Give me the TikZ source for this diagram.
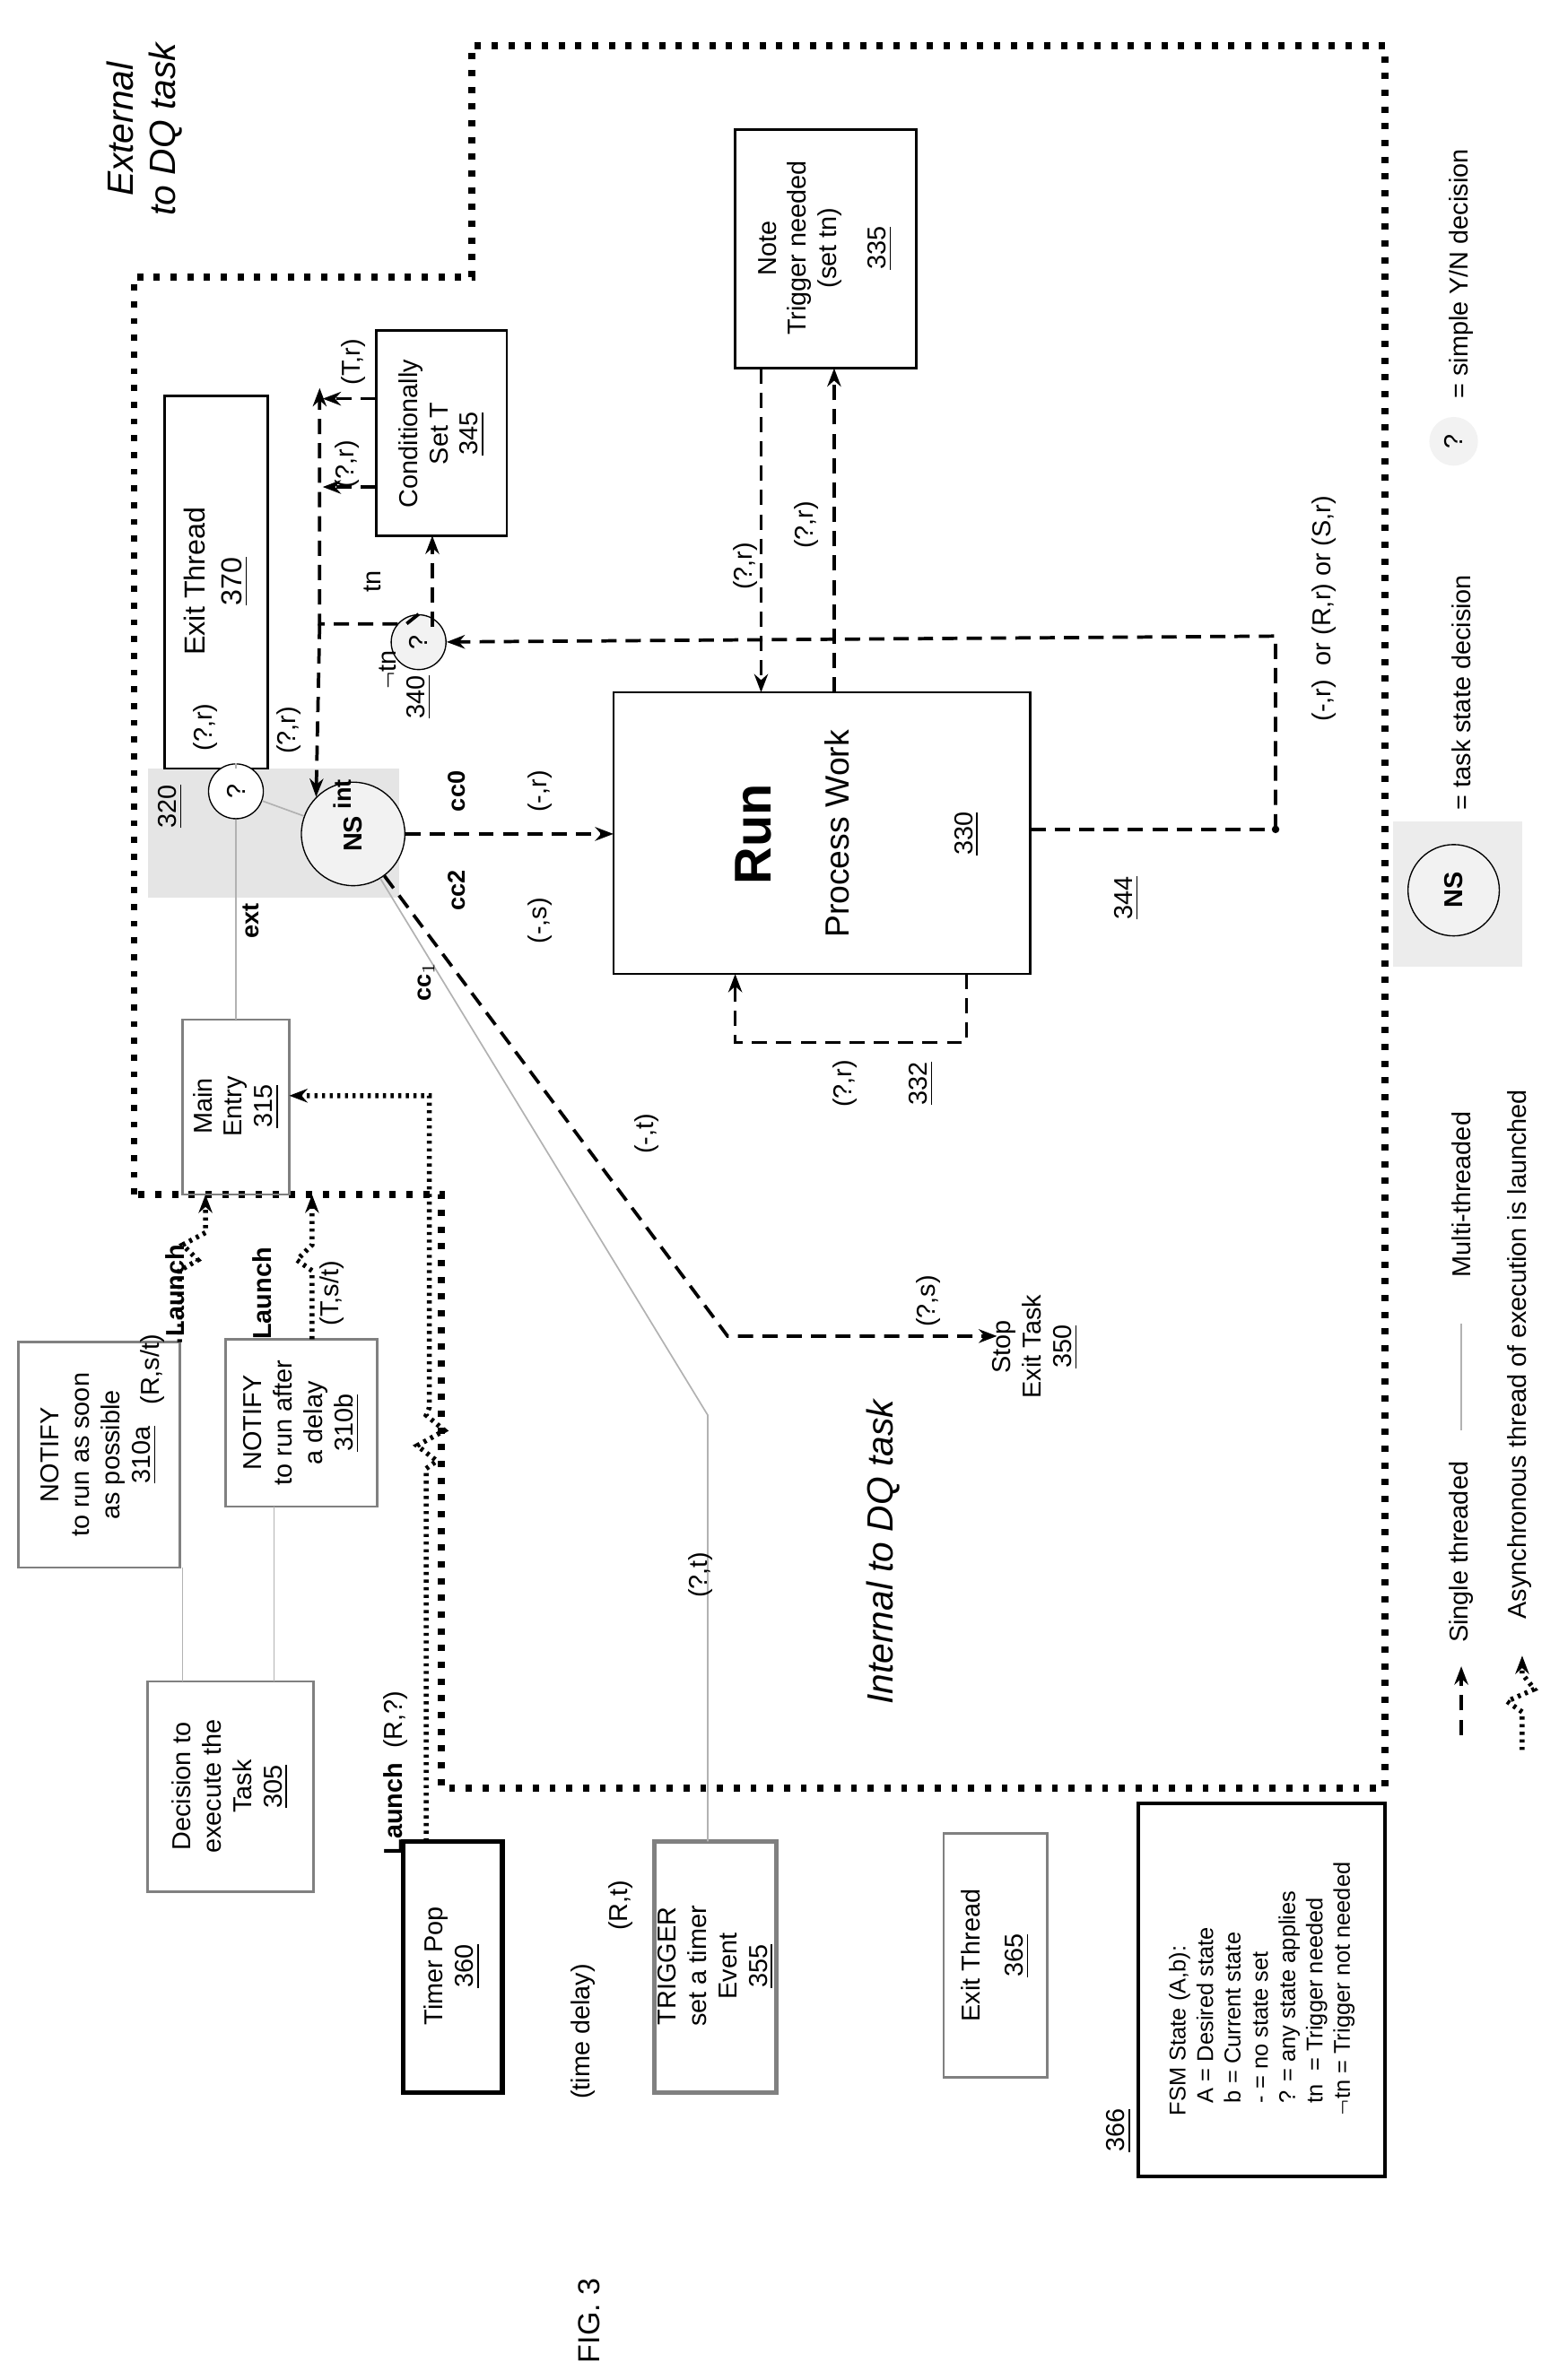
\documentclass[tikz,border=0pt]{standalone}
\usepackage{fontspec}
\setmainfont{Liberation Sans}
\usetikzlibrary{arrows.meta}
\begin{document}
\begin{tikzpicture}[x=0.5pt,y=-0.5pt,
 every node/.style={font=\fontsize{8.5}{10}\selectfont},
 rt/.style={rotate=90,align=center,inner sep=1pt},
 bnd/.style={line width=2.2pt,dash pattern=on 2pt off 3.5pt},
 dsh/.style={line width=1.1pt,dash pattern=on 5pt off 3pt,-{Stealth[length=6pt]}},
 dshn/.style={line width=1.1pt,dash pattern=on 5pt off 3pt},
 mt/.style={gray!60,line width=0.5pt},
 asy/.style={line width=1.6pt,dash pattern=on 1pt off 1.5pt,-{Stealth[length=6pt]}}]
\useasboundingbox (0,0) rectangle (1024,1564);
% boundary
\draw[bnd] (88,785) -- (88,182) -- (310,182) -- (310,30) -- (910,30) -- (910,1175) -- (290,1175) -- (290,785) -- cycle;
\node[rt,font=\fontsize{12}{14}\selectfont\itshape] at (95,85) {External\\to DQ task};
\node[rt,font=\fontsize{12}{14}\selectfont\itshape] at (580,1020) {Internal to DQ task};
% shaded 320
\fill[gray!20] (97,505) rectangle (262,590);
% boxes
\draw[line width=0.8pt] (108,260) rectangle (176,505); \node[rt,font=\fontsize{9.5}{12}\selectfont] at (142,382) {Exit Thread\\\underline{370}};
\draw[line width=0.8pt] (247,217) rectangle (333,352); \node[rt] (cst) at (290,285) {Conditionally\\Set T\\\underline{345}};
\draw[line width=0.8pt] (483,85) rectangle (602,242); \node[rt] (note) at (542,163) {Note\\Trigger needed\\(set tn)\\[6pt]\underline{335}};
\draw[line width=0.8pt] (403,455) rectangle (677,640);
\node[rt,font=\fontsize{17}{20}\selectfont\bfseries] at (495,548) {Run};
\node[rt,font=\fontsize{11}{13}\selectfont] at (550,548) {Process Work};
\node[rt] at (635,548) {\underline{330}};
\draw[gray,line width=0.8pt] (120,670) rectangle (190,785); \node[rt] at (155,727) {Main\\Entry\\\underline{315}};
\draw[gray,line width=0.8pt] (12,882) rectangle (118,1030); \node[rt] at (65,956) {NOTIFY\\to run as soon\\as possible\\\underline{310a}};
\draw[gray,line width=0.8pt] (148,880) rectangle (248,990); \node[rt] at (198,935) {NOTIFY\\to run after\\a delay\\\underline{310b}};
\draw[gray,line width=0.8pt] (97,1105) rectangle (206,1243); \node[rt] at (151,1174) {Decision to\\execute the\\Task\\\underline{305}};
\draw[line width=1.6pt] (265,1210) rectangle (330,1375); \node[rt] at (297,1292) {Timer Pop\\\underline{360}};
\draw[gray,line width=1.6pt] (430,1210) rectangle (510,1375); \node[rt] at (470,1292) {TRIGGER\\set a timer\\Event\\\underline{355}};
\draw[gray,line width=0.8pt] (620,1205) rectangle (688,1365); \node[rt] at (654,1285) {Exit Thread\\[4pt]\underline{365}};
\draw[line width=1.2pt] (748,1185) rectangle (910,1430);
\node[rotate=90,align=left,font=\fontsize{7.5}{9}\selectfont] at (829,1307) {FSM State (A,b):\\\ \ A = Desired state\\\ \ b = Current state\\\ \ - = no state set\\\ \ ? = any state applies\\\ \ tn \ = Trigger needed\\$\neg$tn = Trigger not needed};
\node[rt] at (735,1400) {\underline{366}};
\node[rt,font=\fontsize{10}{12}\selectfont] at (387,1525) {FIG. 3};
\node[rt] at (680,885) {Stop\\Exit Task\\\underline{350}};
% circles
\node[draw,circle,fill=white,inner sep=1pt,minimum size=18pt] (q320) at (155,520) {\rotatebox{90}{?}};
\node[draw,circle,fill=gray!10,inner sep=1pt,minimum size=34pt] (ns) at (232,548) {\rotatebox{90}{\bfseries NS}};
\node[draw,circle,fill=gray!10,inner sep=1pt,minimum size=18pt] (q340) at (275,422) {\rotatebox{90}{?}};
\node[rt] at (112,530) {\underline{320}};
\node[rt] at (275,458) {\underline{340}};
% multi-threaded lines
\draw[mt] (q320) -- (ns);
\draw[mt] (q320) -- (155,670);
\draw[mt] (q320) -- (155,505);
\draw[mt] (ns) -- (465,930) -- (465,1210);
\draw[mt] (120,1030) -- (120,1105); \draw[mt] (180,990) -- (180,1105);
\node[rt,font=\bfseries\fontsize{8}{9}\selectfont] at (165,605) {ext};
\node[rt,font=\bfseries\fontsize{8}{9}\selectfont] at (225,522) {int};
\node[rt,font=\bfseries\fontsize{8}{9}\selectfont] at (300,520) {cc0};
\node[rt,font=\bfseries\fontsize{8}{9}\selectfont] at (300,585) {cc2};
\node[rt,font=\bfseries\fontsize{8}{9}\selectfont] at (280,645) {cc$_1$};
\node[rt] at (135,478) {(?,r)};
\node[rt] at (190,480) {(?,r)};
\node[rt] at (355,520) {(-,r)};
\node[rt] at (355,605) {(-,s)};
\node[rt] at (425,745) {(-,t)};
\node[rt] at (460,1035) {(?,t)};
\node[rt] at (610,855) {(?,s)};
% dashed connectors
\draw[dsh] (ns) -- (403,548);
\draw[dsh] (ns) -- (478,878) -- (655,878);
\draw[dshn] (677,545) -- (838,545);
\fill (838,545) circle (2.5);
\draw[dsh] (838,545) -- (838,418) -- (q340);
\node[rt] at (870,400) {(-,r) \ or (R,r) or (S,r)};
\node[rt] at (740,590) {\underline{344}};
\draw[dsh] (635,640) -- (635,685) -- (483,685) -- (483,640);
\node[rt] at (555,712) {(?,r)};
\node[rt] at (605,712) {\underline{332}};
\draw[dsh] (500,242) -- (500,455);
\draw[dsh] (548,455) -- (548,242);
\node[rt] at (490,372) {(?,r)};
\node[rt] at (530,345) {(?,r)};
\draw[dsh] (284,412) -- (284,352);
\draw[dsh] (q340.north) -- (267,410) -- (210,410) -- (210,255);
\draw[dsh] (210,410) -- (ns.north west);
\draw[dsh] (247,262) -- (212,262);
\draw[dsh] (247,320) -- (212,320);
\node[rt] at (232,238) {(T,r)};
\node[rt] at (228,305) {(?,r)};
\node[rt] at (245,382) {tn};
\node[rt] at (255,440) {$\neg$tn};
% async launches
\draw[asy] (118,882) -- (118,835) -- (130,828) -- (120,818) -- (135,810) -- (135,785);
\draw[asy] (205,880) -- (205,835) -- (195,828) -- (205,818) -- (205,785);
\draw[asy] (280,1210) -- (280,965) -- (287,960) -- (274,950) -- (292,940) -- (280,930) -- (282,925) -- (282,720) -- (190,720);
\node[rt,font=\bfseries\fontsize{8.5}{10}\selectfont] at (115,848) {Launch};
\node[rt] at (100,900) {(R,s/t)};
\node[rt,font=\bfseries\fontsize{8.5}{10}\selectfont] at (172,850) {Launch};
\node[rt] at (218,850) {(T,s/t)};
\node[rt] at (260,1165) {\textbf{Launch} \ (R,?)};
\node[rt] at (408,1252) {(R,t)};
\node[rt] at (383,1335) {(time delay)};
% legend
\node[rt] at (960,455) {= task state decision};
\node[rt] at (960,180) {= simple Y/N decision};
\fill[gray!15] (915,540) rectangle (1000,635);
\node[draw,circle,fill=gray!10,minimum size=30pt,inner sep=1pt] at (955,585) {\rotatebox{90}{\bfseries NS}};
\node[circle,fill=gray!10,minimum size=16pt,inner sep=1pt] at (955,290) {\rotatebox{90}{?}};
\draw[dsh] (960,1140) -- (960,1095);
\node[rt] at (960,1020) {Single threaded};
\draw[mt] (960,940) -- (960,870);
\node[rt] at (960,785) {Multi-threaded};
\draw[asy] (1000,1150) -- (1000,1125) -- (990,1118) -- (1008,1110) -- (1000,1100) -- (1000,1088);
\node[rt] at (998,890) {Asynchronous thread of execution is launched};
\end{tikzpicture}
\end{document}
